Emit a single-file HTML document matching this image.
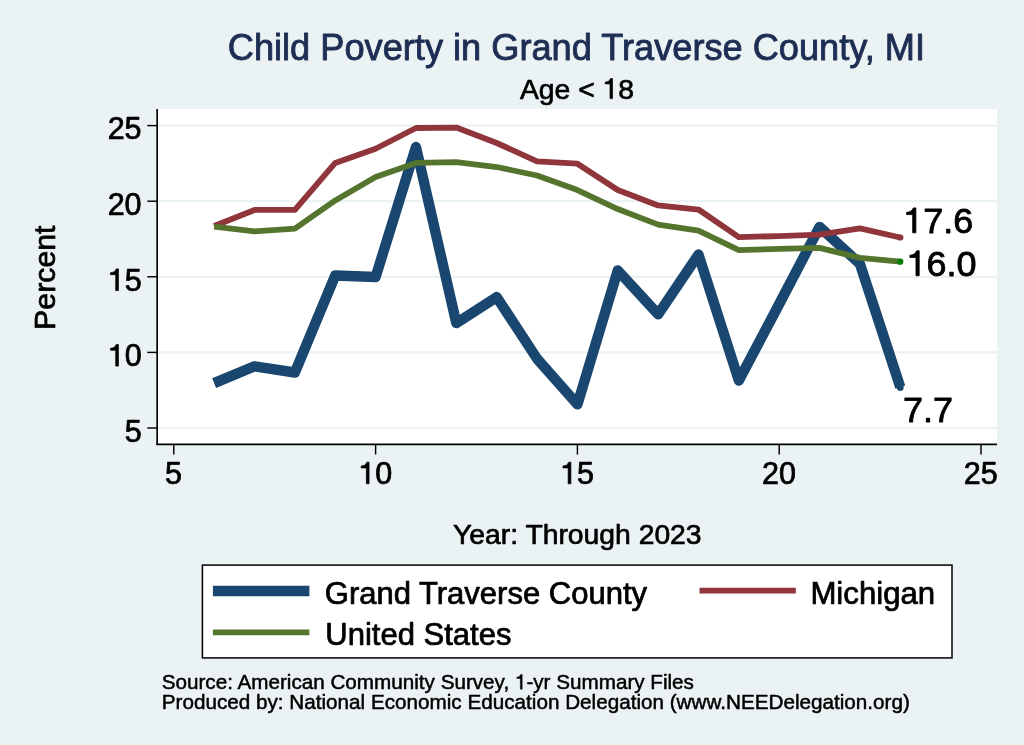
<!DOCTYPE html>
<html><head><meta charset="utf-8"><title>Child Poverty in Grand Traverse County, MI</title>
<style>
html,body{margin:0;padding:0;background:#eaf2f3;}
svg{display:block;will-change:transform;}
text{font-family:"Liberation Sans",sans-serif;fill:#000;stroke:#000;stroke-width:0.024em;stroke-linejoin:round;white-space:pre;}
.h{fill:none;stroke:none;}
.one{stroke-width:24;stroke-linejoin:miter;}
</style></head><body>
<svg width="1024" height="745" viewBox="0 0 1024 745">
<rect x="0" y="0" width="1024" height="745" fill="#eaf2f3"/>
<rect x="157.0" y="109.0" width="840.0" height="335.3" fill="#ffffff"/>

<line x1="157.0" x2="997.0" y1="428.00" y2="428.00" stroke="#eaf2f3" stroke-width="2.2"/>
<line x1="157.0" x2="997.0" y1="352.40" y2="352.40" stroke="#eaf2f3" stroke-width="2.2"/>
<line x1="157.0" x2="997.0" y1="276.80" y2="276.80" stroke="#eaf2f3" stroke-width="2.2"/>
<line x1="157.0" x2="997.0" y1="201.20" y2="201.20" stroke="#eaf2f3" stroke-width="2.2"/>
<line x1="157.0" x2="997.0" y1="125.60" y2="125.60" stroke="#eaf2f3" stroke-width="2.2"/>
<polyline points="214.16,383.09 254.52,366.31 294.88,372.51 335.24,275.44 375.60,276.95 415.96,147.07 456.32,323.07 496.68,297.06 537.04,358.75 577.40,404.41 617.76,270.45 658.12,314.30 698.48,254.57 738.84,380.52 779.20,304.02 819.56,226.90 859.92,263.80 900.28,387.18" fill="none" stroke="#1a476f" stroke-width="10.4" stroke-linejoin="round" stroke-linecap="butt"/>
<polyline points="214.16,226.00 254.52,209.97 294.88,209.97 335.24,162.95 375.60,148.73 415.96,128.02 456.32,127.57 496.68,142.99 537.04,161.28 577.40,163.70 617.76,190.01 658.12,205.43 698.48,209.52 738.84,237.03 779.20,236.13 819.56,234.62 859.92,228.42 900.28,237.49" fill="none" stroke="#90353b" stroke-width="5.8" stroke-linejoin="round" stroke-linecap="butt"/>
<polyline points="214.16,226.60 254.52,231.44 294.88,228.57 335.24,200.44 375.60,177.01 415.96,162.95 456.32,162.04 496.68,167.03 537.04,175.50 577.40,190.01 617.76,209.06 658.12,224.64 698.48,230.68 738.84,250.19 779.20,248.83 819.56,247.92 859.92,257.90 900.28,261.68" fill="none" stroke="#55752f" stroke-width="5.8" stroke-linejoin="round" stroke-linecap="butt"/>
<circle cx="900.28" cy="387.48" r="3.4" fill="#1a476f"/>
<circle cx="900.28" cy="237.49" r="3.1" fill="#90353b"/>
<circle cx="900.28" cy="261.68" r="3.1" fill="#008000"/>
<line x1="157.15" x2="157.15" y1="109.0" y2="445.1" stroke="#000" stroke-width="1.65"/>
<line x1="156.3" x2="997.0" y1="444.35" y2="444.35" stroke="#000" stroke-width="1.6"/>
<line x1="147.3" x2="157.0" y1="428.00" y2="428.00" stroke="#000" stroke-width="1.45"/>
<line x1="173.80" x2="173.80" y1="444.3" y2="454.5" stroke="#000" stroke-width="1.45"/>
<line x1="147.3" x2="157.0" y1="352.40" y2="352.40" stroke="#000" stroke-width="1.45"/>
<line x1="375.60" x2="375.60" y1="444.3" y2="454.5" stroke="#000" stroke-width="1.45"/>
<line x1="147.3" x2="157.0" y1="276.80" y2="276.80" stroke="#000" stroke-width="1.45"/>
<line x1="577.40" x2="577.40" y1="444.3" y2="454.5" stroke="#000" stroke-width="1.45"/>
<line x1="147.3" x2="157.0" y1="201.20" y2="201.20" stroke="#000" stroke-width="1.45"/>
<line x1="779.20" x2="779.20" y1="444.3" y2="454.5" stroke="#000" stroke-width="1.45"/>
<line x1="147.3" x2="157.0" y1="125.60" y2="125.60" stroke="#000" stroke-width="1.45"/>
<line x1="981.00" x2="981.00" y1="444.3" y2="454.5" stroke="#000" stroke-width="1.45"/>
<rect x="202.4" y="565.1" width="749.6" height="92.8" fill="#fff" stroke="#000" stroke-width="1.5"/>
<line x1="212.9" x2="309.4" y1="591" y2="591" stroke="#1a476f" stroke-width="10.4"/>
<line x1="212.9" x2="309.4" y1="632.4" y2="632.4" stroke="#55752f" stroke-width="5.8"/>
<line x1="699.5" x2="795.8" y1="590.6" y2="590.6" stroke="#90353b" stroke-width="5.8"/>
<text x="141.6" y="441.7" font-size="30.5" text-anchor="end">5</text>
<text x="173.5" y="483.8" font-size="30.5" text-anchor="middle">5</text>
<text x="141.6" y="366.1" font-size="30.5" text-anchor="end"><tspan class="h">1</tspan>0</text><path class="one" d="M352,0 L264,0 L264,520 L94,520 L94,583 C180,592 244,612 282,709 L352,709 Z" transform="translate(107.66,366.10) scale(0.03050,-0.03050)" fill="#000" stroke="#000"/>
<text x="375.3" y="483.8" font-size="30.5" text-anchor="middle"><tspan class="h">1</tspan>0</text><path class="one" d="M352,0 L264,0 L264,520 L94,520 L94,583 C180,592 244,612 282,709 L352,709 Z" transform="translate(358.33,483.80) scale(0.03050,-0.03050)" fill="#000" stroke="#000"/>
<text x="141.6" y="290.5" font-size="30.5" text-anchor="end"><tspan class="h">1</tspan>5</text><path class="one" d="M352,0 L264,0 L264,520 L94,520 L94,583 C180,592 244,612 282,709 L352,709 Z" transform="translate(107.66,290.50) scale(0.03050,-0.03050)" fill="#000" stroke="#000"/>
<text x="577.1" y="483.8" font-size="30.5" text-anchor="middle"><tspan class="h">1</tspan>5</text><path class="one" d="M352,0 L264,0 L264,520 L94,520 L94,583 C180,592 244,612 282,709 L352,709 Z" transform="translate(560.13,483.80) scale(0.03050,-0.03050)" fill="#000" stroke="#000"/>
<text x="141.6" y="214.9" font-size="30.5" text-anchor="end">20</text>
<text x="778.9" y="483.8" font-size="30.5" text-anchor="middle">20</text>
<text x="141.6" y="139.3" font-size="30.5" text-anchor="end">25</text>
<text x="980.7" y="483.8" font-size="30.5" text-anchor="middle">25</text>
<g transform="translate(903.2,232.8) scale(1,0.955)"><text x="0" y="0" font-size="36" text-anchor="start"><tspan class="h">1</tspan>7.6</text><path class="one" d="M352,0 L264,0 L264,520 L94,520 L94,583 C180,592 244,612 282,709 L352,709 Z" transform="translate(0.00,0.00) scale(0.03600,-0.03672)" fill="#000" stroke="#000"/></g>
<g transform="translate(906.5,275.7) scale(1,0.955)"><text x="0" y="0" font-size="36" text-anchor="start"><tspan class="h">1</tspan>6.0</text><path class="one" d="M352,0 L264,0 L264,520 L94,520 L94,583 C180,592 244,612 282,709 L352,709 Z" transform="translate(0.00,0.00) scale(0.03600,-0.03672)" fill="#000" stroke="#000"/></g>
<g transform="translate(902.9,421.5) scale(1,0.955)"><text x="0" y="0" font-size="36" text-anchor="start">7.7</text></g>
<text x="576.4" y="60.3" font-size="36.2" text-anchor="middle" style="fill:#1e2d53;stroke:#1e2d53">Child Poverty in Grand Traverse County, MI</text>
<text x="577" y="98.6" font-size="28.3" text-anchor="middle">Age &lt; <tspan class="h">1</tspan>8</text><path class="one" d="M352,0 L264,0 L264,520 L94,520 L94,583 C180,592 244,612 282,709 L352,709 Z" transform="translate(602.55,98.60) scale(0.02830,-0.02830)" fill="#000" stroke="#000"/>
<text x="577.3" y="543.8" font-size="28.3" text-anchor="middle">Year: Through 2023</text>
<g transform="translate(55.1,277.7) rotate(-90)"><text x="0" y="0" font-size="30.3" text-anchor="middle">Percent</text></g>
<text x="324.8" y="604.0" font-size="31" text-anchor="start">Grand Traverse County</text>
<text x="325.3" y="645.3" font-size="31" text-anchor="start">United States</text>
<text x="810.4" y="603.9" font-size="31.2" text-anchor="start">Michigan</text>
<text x="161.7" y="689.2" font-size="20.67" text-anchor="start">Source: American Community Survey, <tspan class="h">1</tspan>-yr Summary Files</text><path class="one" d="M352,0 L264,0 L264,520 L94,520 L94,583 C180,592 244,612 282,709 L352,709 Z" transform="translate(514.89,689.20) scale(0.02067,-0.02067)" fill="#000" stroke="#000"/>
<text x="161.8" y="709.3" font-size="20.68" text-anchor="start">Produced by: National Economic Education Delegation (www.NEEDelegation.org)</text>
</svg></body></html>
